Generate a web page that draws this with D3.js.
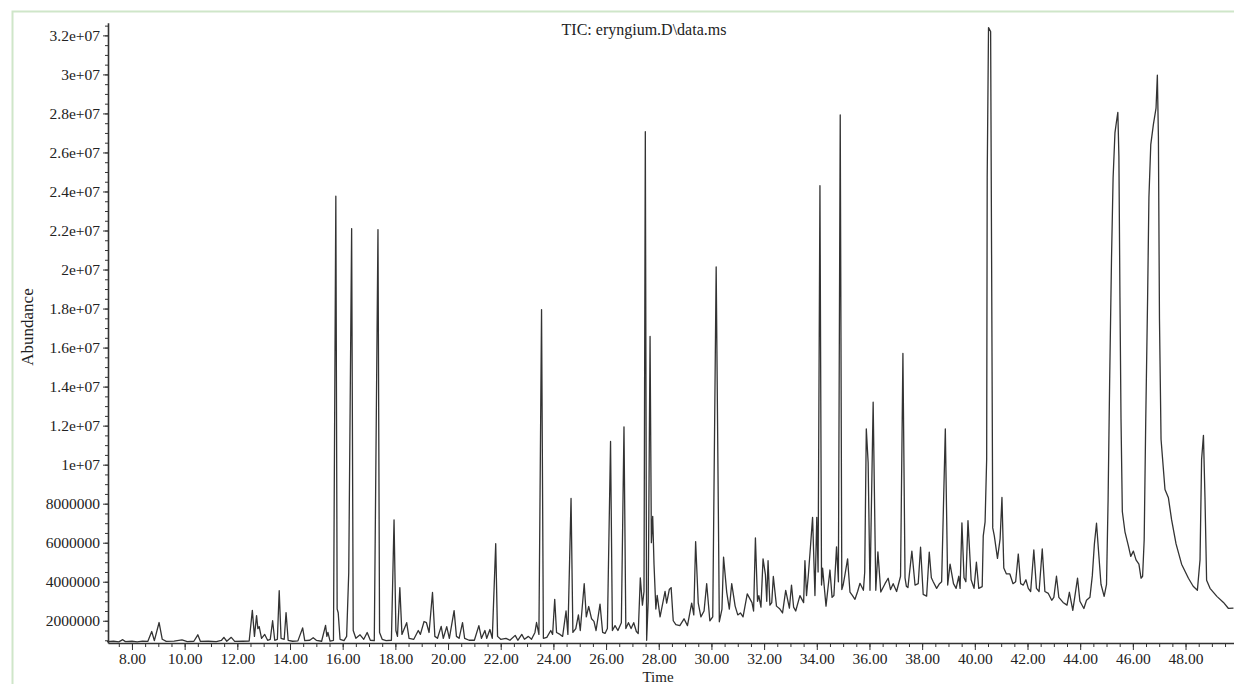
<!DOCTYPE html>
<html>
<head>
<meta charset="utf-8">
<script src="https://cdn.jsdelivr.net/npm/d3@7"></script>
<style>
  body { margin: 0; background: #fff; }
  svg { display: block; font-family: "Liberation Serif", "DejaVu Serif", serif; }
</style>
</head>
<body>
<div id="chart"></div>
<script>
// retention time (min) and abundance (millions of counts)
const retentionTime = [
  7.05, 7.30, 7.50, 7.65, 7.75, 8.00, 8.20, 8.40, 8.60, 8.75, 8.85, 9.03, 9.15, 9.30, 9.60, 9.90,
  10.10, 10.35, 10.50, 10.60, 10.90, 11.20, 11.40, 11.49, 11.60, 11.77, 11.90, 12.20, 12.45, 12.57,
  12.65, 12.73, 12.78, 12.83, 12.92, 13.04, 13.15, 13.25, 13.34, 13.42, 13.52, 13.59, 13.66, 13.78,
  13.85, 13.93, 14.10, 14.30, 14.48, 14.56, 14.75, 14.88, 15.00, 15.20, 15.35, 15.40, 15.44, 15.52,
  15.65, 15.74, 15.79, 15.83, 15.90, 16.05, 16.15, 16.23, 16.34, 16.40, 16.50, 16.66, 16.80, 16.93,
  17.05, 17.20, 17.34, 17.40, 17.50, 17.65, 17.85, 17.95, 18.02, 18.08, 18.17, 18.25, 18.43, 18.52,
  18.70, 18.87, 18.95, 19.09, 19.18, 19.28, 19.41, 19.50, 19.60, 19.74, 19.82, 19.95, 20.05, 20.23,
  20.32, 20.42, 20.55, 20.63, 20.80, 21.00, 21.17, 21.27, 21.40, 21.47, 21.59, 21.68, 21.81, 21.88,
  22.00, 22.20, 22.35, 22.55, 22.65, 22.80, 22.90, 23.05, 23.17, 23.30, 23.36, 23.45, 23.55, 23.62,
  23.75, 23.90, 23.97, 24.05, 24.12, 24.25, 24.35, 24.48, 24.55, 24.67, 24.74, 24.85, 24.95, 25.02,
  25.17, 25.25, 25.34, 25.45, 25.54, 25.62, 25.77, 25.87, 25.96, 26.05, 26.17, 26.24, 26.34, 26.45,
  26.58, 26.68, 26.75, 26.85, 26.95, 27.05, 27.15, 27.22, 27.30, 27.38, 27.44, 27.49, 27.54, 27.60,
  27.67, 27.72, 27.77, 27.82, 27.89, 27.94, 28.05, 28.24, 28.30, 28.40, 28.47, 28.55, 28.65, 28.80,
  28.96, 29.09, 29.25, 29.33, 29.40, 29.50, 29.60, 29.72, 29.82, 29.94, 30.05, 30.18, 30.30, 30.40,
  30.46, 30.58, 30.68, 30.77, 30.90, 31.00, 31.10, 31.20, 31.36, 31.54, 31.60, 31.67, 31.75, 31.80,
  31.88, 31.96, 32.05, 32.10, 32.15, 32.22, 32.29, 32.35, 32.47, 32.60, 32.70, 32.82, 32.96, 33.04,
  33.12, 33.20, 33.36, 33.50, 33.55, 33.61, 33.68, 33.76, 33.84, 33.93, 34.00, 34.05, 34.12, 34.18,
  34.22, 34.35, 34.50, 34.58, 34.65, 34.75, 34.82, 34.89, 34.95, 35.00, 35.07, 35.17, 35.26, 35.35,
  35.45, 35.55, 35.64, 35.77, 35.82, 35.88, 35.95, 36.02, 36.14, 36.24, 36.32, 36.43, 36.59, 36.71,
  36.80, 36.90, 37.03, 37.18, 37.27, 37.35, 37.40, 37.46, 37.61, 37.73, 37.85, 37.94, 38.04, 38.17,
  38.27, 38.35, 38.42, 38.55, 38.66, 38.74, 38.88, 38.97, 39.06, 39.19, 39.29, 39.39, 39.44, 39.51,
  39.59, 39.66, 39.74, 39.86, 39.97, 40.06, 40.15, 40.28, 40.32, 40.39, 40.45, 40.47, 40.52, 40.60,
  40.65, 40.68, 40.74, 40.86, 40.96, 41.03, 41.10, 41.20, 41.33, 41.45, 41.55, 41.65, 41.74, 41.84,
  41.94, 42.03, 42.12, 42.24, 42.34, 42.44, 42.56, 42.66, 42.79, 42.92, 43.00, 43.10, 43.19, 43.35,
  43.50, 43.59, 43.72, 43.90, 43.99, 44.14, 44.24, 44.37, 44.46, 44.54, 44.62, 44.71, 44.79, 44.91,
  45.00, 45.06, 45.12, 45.19, 45.25, 45.32, 45.38, 45.43, 45.47, 45.51, 45.55, 45.60, 45.70, 45.83,
  45.92, 46.02, 46.12, 46.23, 46.31, 46.37, 46.43, 46.49, 46.56, 46.61, 46.68, 46.78, 46.88, 46.93,
  46.97, 47.01, 47.07, 47.22, 47.35, 47.47, 47.64, 47.85, 48.11, 48.29, 48.45, 48.55, 48.61, 48.68,
  48.74, 48.80, 48.93, 49.19, 49.44, 49.63, 49.82
];

const abundanceMillions = [
  0.93, 0.95, 0.92, 1.03, 0.93, 0.95, 0.92, 0.96, 0.94, 1.45, 0.98, 1.91, 1.05, 0.94, 0.96, 1.02,
  0.93, 0.95, 1.28, 0.94, 0.95, 0.93, 1.00, 1.15, 0.95, 1.15, 0.94, 0.95, 0.96, 2.53,
  1.20, 2.26, 1.60, 1.70, 1.10, 1.30, 1.00, 1.05, 2.00, 1.00, 1.05, 3.54, 1.10, 1.05,
  2.42, 1.00, 0.95, 0.97, 1.63, 0.98, 1.00, 1.13, 1.00, 0.95, 1.76, 1.20, 1.40, 0.96,
  1.00, 23.76, 2.60, 2.41, 1.05, 0.98, 1.20, 4.46, 22.10, 1.50, 1.10, 1.28, 1.05, 1.40,
  1.00, 0.98, 22.05, 1.40, 1.05, 0.98, 1.00, 7.17, 1.50, 1.20, 3.70, 1.30, 1.90, 1.10,
  1.05, 1.50, 1.30, 1.96, 1.90, 1.40, 3.45, 1.20, 1.10, 1.71, 1.10, 1.70, 1.10, 2.52,
  1.20, 1.10, 1.90, 1.10, 1.00, 1.00, 1.75, 1.10, 1.50, 1.10, 1.55, 1.10, 5.95, 1.20,
  1.05, 1.10, 1.00, 1.25, 1.00, 1.30, 1.05, 1.20, 1.05, 1.40, 1.91, 1.30, 17.95, 1.10,
  1.15, 1.50, 1.30, 3.10, 1.40, 1.30, 1.20, 2.50, 1.30, 8.27, 1.40, 1.60, 2.30, 1.50,
  3.90, 2.20, 2.73, 2.10, 1.97, 1.50, 2.85, 1.40, 1.35, 1.60, 11.19, 1.50, 1.75, 1.50,
  1.90, 11.94, 1.60, 1.90, 1.60, 1.90, 1.45, 1.35, 4.20, 2.80, 3.50, 27.06, 1.00, 3.00,
  16.57, 6.00, 7.35, 4.90, 2.60, 3.30, 2.20, 3.50, 2.90, 3.60, 3.70, 2.00, 1.80, 1.75,
  2.10, 1.75, 2.90, 2.30, 6.06, 2.90, 2.20, 2.50, 3.90, 2.00, 2.20, 20.13, 1.95, 2.60,
  5.26, 3.47, 2.60, 3.90, 2.75, 2.30, 2.40, 2.20, 3.38, 2.93, 2.50, 6.24, 3.00, 3.29,
  2.70, 5.17, 4.36, 3.00, 5.08, 2.80, 2.93, 4.27, 2.75, 2.60, 2.40, 3.56, 2.65, 3.83,
  2.70, 2.50, 3.29, 2.93, 5.08, 3.29, 4.36, 5.79, 7.30, 3.29, 7.30, 4.50, 24.30, 3.83,
  4.70, 2.75, 4.60, 3.20, 3.29, 5.79, 4.00, 27.92, 3.60, 3.83, 4.36, 5.17, 3.47, 3.30,
  3.10, 3.50, 3.92, 3.56, 4.50, 11.83, 10.10, 3.56, 13.20, 3.56, 5.53, 3.47, 3.90, 4.18,
  3.60, 3.90, 3.50, 4.28, 15.70, 4.20, 3.77, 3.70, 5.57, 3.83, 3.90, 5.77, 3.35, 3.26,
  5.52, 4.20, 4.00, 3.66, 3.90, 4.00, 11.83, 3.83, 4.90, 3.90, 3.66, 4.28, 3.66, 7.02,
  4.20, 4.00, 7.13, 4.10, 3.66, 5.00, 3.66, 3.75, 6.35, 7.07, 10.30, 24.70, 32.40, 32.20,
  16.50, 6.76, 6.35, 5.20, 6.20, 8.32, 4.70, 4.40, 4.40, 3.90, 4.00, 5.42, 3.90, 3.83,
  4.10, 3.66, 3.50, 5.63, 3.66, 3.50, 5.68, 3.50, 3.40, 3.05, 3.20, 4.28, 3.20, 2.94,
  2.80, 3.46, 2.53, 4.18, 3.00, 2.63, 3.05, 3.20, 4.30, 5.94, 7.00, 5.33, 3.87, 3.25,
  3.87, 8.20, 14.40, 20.60, 24.70, 27.00, 27.60, 28.05, 25.80, 18.55, 12.35, 7.60, 6.56, 5.84,
  5.30, 5.57, 5.12, 4.90, 4.18, 4.28, 6.15, 12.35, 18.55, 23.70, 26.40, 27.44, 28.27, 29.96,
  26.80, 17.50, 11.30, 8.73, 8.30, 7.18, 5.94, 4.90, 4.18, 3.77, 3.56, 5.12, 10.28, 11.50,
  8.20, 4.08, 3.66, 3.25, 2.94, 2.63, 2.65
];

const yTickValues = [2e6, 4e6, 6e6, 8e6, 1e7, 1.2e7, 1.4e7, 1.6e7, 1.8e7, 2e7, 2.2e7, 2.4e7, 2.6e7, 2.8e7, 3e7, 3.2e7];
const yTickLabels = ['2000000', '4000000', '6000000', '8000000', '1e+07', '1.2e+07', '1.4e+07', '1.6e+07',
  '1.8e+07', '2e+07', '2.2e+07', '2.4e+07', '2.6e+07', '2.8e+07', '3e+07', '3.2e+07'];
const xTickValues = [8, 10, 12, 14, 16, 18, 20, 22, 24, 26, 28, 30, 32, 34, 36, 38, 40, 42, 44, 46, 48];
const xTickLabels = ['8.00', '10.00', '12.00', '14.00', '16.00', '18.00', '20.00', '22.00', '24.00', '26.00',
  '28.00', '30.00', '32.00', '34.00', '36.00', '38.00', '40.00', '42.00', '44.00', '46.00', '48.00'];

const title = 'TIC: eryngium.D\\data.ms';

const W = 1234, H = 684;
const data = retentionTime.map((t, i) => ({ t, v: abundanceMillions[i] * 1e6 }));

const svg = d3.select('#chart').append('svg').attr('width', W).attr('height', H);

// light green frame of the original figure
svg.append('path')
  .attr('d', `M12.5,${H} V11.5 H${W}`)
  .attr('fill', 'none').attr('stroke', '#cfe6c9').attr('stroke-width', 2);

const x = d3.scaleLinear().domain([7.09, 49.84]).range([108, 1234]);
const y = d3.scaleLinear().domain([0.86e6, 32.65e6]).range([643, 22.7]);

// minor ticks
svg.append('g').attr('transform', 'translate(108,0)')
  .call(d3.axisLeft(y).tickValues(d3.range(1e6, 32.6e6, 5e5)).tickFormat('').tickSize(3).tickSizeOuter(0))
  .call(g => g.select('.domain').remove())
  .selectAll('line').attr('stroke', '#333');
svg.append('g').attr('transform', 'translate(0,643)')
  .call(d3.axisBottom(x).tickValues(d3.range(7.5, 49.9, 0.5)).tickFormat('').tickSize(4).tickSizeOuter(0))
  .call(g => g.select('.domain').remove())
  .selectAll('line').attr('stroke', '#333');

// main axes
const yAxis = svg.append('g').attr('transform', 'translate(108,0)')
  .call(d3.axisLeft(y).tickValues(yTickValues).tickFormat((d, i) => yTickLabels[i]).tickSize(5).tickSizeOuter(0).tickPadding(3));
const xAxis = svg.append('g').attr('transform', 'translate(0,643)')
  .call(d3.axisBottom(x).tickValues(xTickValues).tickFormat((d, i) => xTickLabels[i]).tickSize(7).tickSizeOuter(0).tickPadding(3));

[yAxis, xAxis].forEach(a => {
  a.select('.domain').attr('stroke', '#333').attr('stroke-width', 1.6);
  a.selectAll('line').attr('stroke', '#333');
  a.selectAll('text').attr('fill', '#222').style('font-size', '15.5px')
    .style('font-family', '"Liberation Serif", "DejaVu Serif", serif');
});

// trace
svg.append('path')
  .datum(data)
  .attr('fill', 'none')
  .attr('stroke', '#333')
  .attr('stroke-width', 1.3)
  .attr('stroke-linejoin', 'round')
  .attr('d', d3.line().x(d => x(d.t)).y(d => y(d.v)));

svg.append('text')
  .attr('x', 644).attr('y', 35)
  .attr('text-anchor', 'middle')
  .style('font-size', '16px').attr('fill', '#222')
  .text(title);

svg.append('text')
  .attr('transform', 'translate(33,327) rotate(-90)')
  .attr('text-anchor', 'middle')
  .style('font-size', '17px').attr('fill', '#222')
  .text('Abundance');

svg.append('text')
  .attr('x', 658).attr('y', 682)
  .attr('text-anchor', 'middle')
  .style('font-size', '15px').attr('fill', '#222')
  .text('Time');
</script>
</body>
</html>
